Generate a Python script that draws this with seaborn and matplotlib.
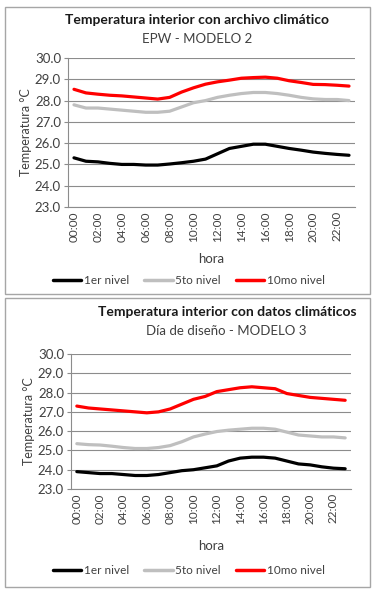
import pandas as pd
import numpy as np
import matplotlib
matplotlib.use("Agg")
import matplotlib.pyplot as plt
import seaborn as sns
from matplotlib.patches import Rectangle
from matplotlib.lines import Line2D

hours = list(range(24))
hour_labels = ["%02d:00" % h for h in hours]
series_names = ["1er nivel", "5to nivel", "10mo nivel"]
series_colors = ["#000000", "#bfbfbf", "#ff0000"]

# modelo 2 - EPW
m2_nivel1 = [25.31, 25.15, 25.12, 25.05, 25.0, 25.0, 24.97, 24.97, 25.02, 25.08, 25.15, 25.25,
             25.5, 25.75, 25.85, 25.95, 25.95, 25.85, 25.75, 25.67, 25.58, 25.52, 25.47, 25.43]
m2_nivel5 = [27.8, 27.65, 27.65, 27.6, 27.55, 27.5, 27.45, 27.45, 27.5, 27.7, 27.9, 28.0,
             28.15, 28.25, 28.33, 28.38, 28.38, 28.33, 28.25, 28.15, 28.08, 28.05, 28.05, 28.0]
m2_nivel10 = [28.53, 28.36, 28.3, 28.25, 28.22, 28.17, 28.12, 28.07, 28.15, 28.4, 28.6, 28.77,
              28.88, 28.96, 29.05, 29.08, 29.1, 29.05, 28.93, 28.85, 28.76, 28.75, 28.72, 28.68]

# modelo 3 - dia de diseno
m3_nivel1 = [23.9, 23.85, 23.8, 23.8, 23.75, 23.7, 23.7, 23.75, 23.85, 23.95, 24.0, 24.1,
             24.2, 24.45, 24.6, 24.65, 24.65, 24.6, 24.45, 24.3, 24.25, 24.15, 24.08, 24.05]
m3_nivel5 = [25.35, 25.3, 25.28, 25.22, 25.15, 25.1, 25.1, 25.15, 25.25, 25.45, 25.7, 25.85,
             25.98, 26.05, 26.1, 26.15, 26.15, 26.1, 25.95, 25.8, 25.75, 25.7, 25.7, 25.65]
m3_nivel10 = [27.3, 27.2, 27.15, 27.1, 27.05, 27.0, 26.95, 27.0, 27.15, 27.4, 27.65, 27.8,
              28.05, 28.15, 28.25, 28.3, 28.25, 28.2, 27.95, 27.85, 27.75, 27.7, 27.65, 27.6]


def long_df(n1, n5, n10):
    frames = []
    for name, vals in zip(series_names, [n1, n5, n10]):
        frames.append(pd.DataFrame({"hora": hours, "temp": vals, "nivel": name}))
    return pd.concat(frames, ignore_index=True)


sns.set_theme(style="white")
plt.rcParams["font.family"] = ["Lato", "DejaVu Sans"]

fig = plt.figure(figsize=(3.74, 5.92), dpi=100)

# panel borders
for (x0, y0, x1, y1) in [(5, 7, 370, 294), (5, 298, 370, 587)]:
    fig.patches.append(Rectangle((x0 / 374, 1 - y1 / 592), (x1 - x0) / 374, (y1 - y0) / 592,
                                 transform=fig.transFigure, fill=False,
                                 edgecolor="#a6a6a6", linewidth=1.0))

panels = [
    dict(rect=[68 / 374, 1 - 207 / 592, 287 / 374, 149 / 592],
         df=long_df(m2_nivel1, m2_nivel5, m2_nivel10),
         title="Temperatura interior con archivo climático", tx=197 / 374, ty=1 - 20 / 592,
         sub="EPW - MODELO 2", sy=1 - 39 / 592, sx=197 / 374,
         hora_y=1 - 259 / 592, leg_y=1 - 281 / 592),
    dict(rect=[71 / 374, 1 - 489 / 592, 280 / 374, 135 / 592],
         df=long_df(m3_nivel1, m3_nivel5, m3_nivel10),
         title="Temperatura interior con datos climáticos", tx=227 / 374, ty=1 - 312 / 592,
         sub="Día de diseño - MODELO 3", sy=1 - 331 / 592, sx=226 / 374,
         hora_y=1 - 546 / 592, leg_y=1 - 571 / 592),
]

for p in panels:
    ax = fig.add_axes(p["rect"])
    sns.lineplot(data=p["df"], x="hora", y="temp", hue="nivel", palette=series_colors,
                 hue_order=series_names, linewidth=2.3, legend=False, ax=ax)
    ax.set_xlim(-0.5, 23.5)
    ax.set_ylim(23, 30)
    ax.set_yticks(np.arange(23, 30.5, 1))
    ax.set_yticklabels(["%.1f" % v for v in np.arange(23, 30.5, 1)], fontsize=9.5, color="#404040")
    ax.set_xticks(hours[::2])
    ax.set_xticklabels(hour_labels[::2], rotation=90, fontsize=8.5, color="#404040")
    ax.yaxis.grid(True, color="#8c8c8c", linewidth=0.8)
    ax.xaxis.grid(False)
    for s in ["top", "right"]:
        ax.spines[s].set_visible(False)
    for s in ["left", "bottom"]:
        ax.spines[s].set_color("#8c8c8c")
        ax.spines[s].set_linewidth(0.8)
    ax.tick_params(axis="y", length=3, width=0.8, color="#8c8c8c", left=True, pad=2)
    ax.tick_params(axis="x", length=0, pad=3)
    ax.set_xlabel("")
    ax.set_ylabel("Temperatura °C", fontsize=9, color="#404040", labelpad=2)

    fig.text(p["tx"], p["ty"], p["title"], ha="center", va="center", fontsize=10,
             fontweight="bold", color="#1a1a1a")
    fig.text(p["sx"], p["sy"], p["sub"], ha="center", va="center", fontsize=9.5, color="#404040")
    fig.text(211 / 374, p["hora_y"], "hora", ha="center", va="center", fontsize=9.5, color="#404040")

    handles = [Line2D([], [], color=c, linewidth=2.5) for c in series_colors]
    fig.legend(handles, series_names, loc="center", bbox_to_anchor=(0.505, p["leg_y"]),
               ncol=3, frameon=False, fontsize=8.5, handlelength=2.4, handletextpad=0.2,
               columnspacing=1.3, labelcolor="#404040")

fig.savefig("out.png", dpi=100)
